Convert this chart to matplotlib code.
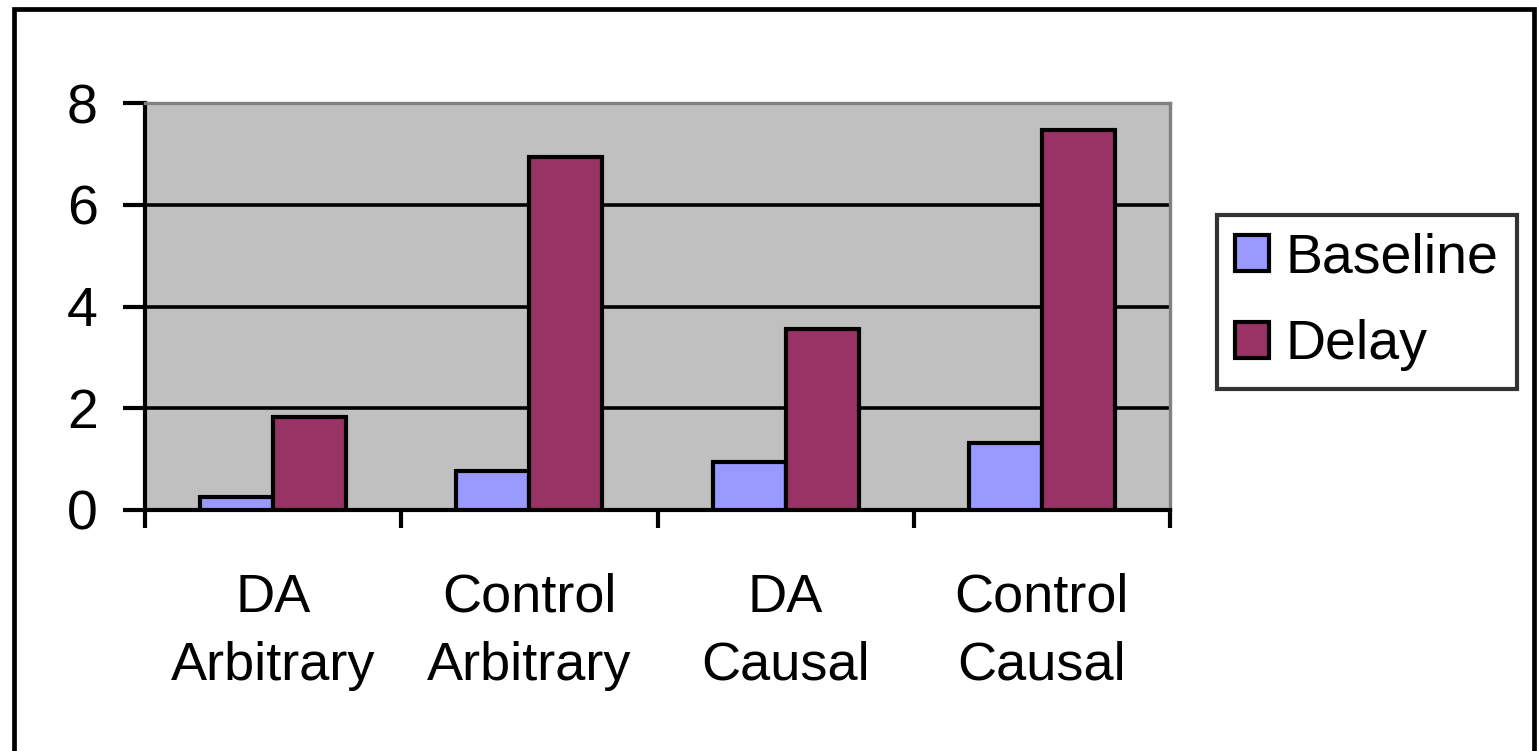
import numpy as np
import matplotlib
matplotlib.use("Agg")
import matplotlib.pyplot as plt
from matplotlib.patches import Rectangle

# Data
# -----------------------------------------------------------------------------
categories = ["DA\nArbitrary", "Control\nArbitrary", "DA\nCausal", "Control\nCausal"]
baseline   = [0.26, 0.77, 0.95, 1.31]
delay      = [1.83, 6.94, 3.56, 7.47]
series     = ["Baseline", "Delay"]
yticks     = [0, 2, 4, 6, 8]

plt.rcParams["font.family"] = ["Liberation Sans", "DejaVu Sans"]
fs = 40

# Figure
# -----------------------------------------------------------------------------
W, H = 1537, 751
fig = plt.figure(figsize=(W / 100, H / 100), dpi=100)

# outer frame (bottom edge falls outside the picture)
fig.patches.append(Rectangle((13.5 / W, -0.05), (1534 - 13.5) / W, 1.05 - 9.5 / H,
                             transform=fig.transFigure, fill=False,
                             edgecolor="black", linewidth=3.4, zorder=0))

ax = fig.add_axes([145 / W, 1 - 510 / H, (1170 - 145) / W, (510 - 103) / H])
ax.set_facecolor("#C0C0C0")

x = np.arange(len(categories))
bw = 0.285
ax.bar(x - bw / 2, baseline, bw, color="#9999FF", edgecolor="black",
       linewidth=3.0, label=series[0], zorder=3)
ax.bar(x + bw / 2, delay, bw, color="#993366", edgecolor="black",
       linewidth=3.0, label=series[1], zorder=3)

ax.set_xlim(-0.5, len(categories) - 0.5)
ax.set_ylim(0, 8)

# gridlines
for y in yticks[1:-1]:
    ax.axhline(y, color="black", linewidth=2.6, zorder=1)

ax.spines["top"].set_color("#808080")
ax.spines["right"].set_color("#808080")
ax.spines["top"].set_linewidth(2.4)
ax.spines["right"].set_linewidth(2.4)
ax.spines["left"].set_linewidth(3.0)
ax.spines["bottom"].set_linewidth(3.0)

ax.set_yticks(yticks)
ax.tick_params(axis="y", length=16, width=3.0, pad=18, labelsize=fs)

# category boundaries as major ticks, labels on minor ticks at centers
ax.set_xticks(np.arange(-0.5, len(categories), 1.0))
ax.set_xticklabels([])
ax.tick_params(axis="x", which="major", length=13, width=3.0)
ax.set_xticks(x, minor=True)
ax.set_xticklabels(categories, minor=True, fontsize=39, linespacing=1.47)
ax.tick_params(axis="x", which="minor", length=0, pad=45)

leg = ax.legend(loc="upper left", bbox_to_anchor=(1217 / W, 1 - 215 / H),
                bbox_transform=fig.transFigure, fontsize=fs, frameon=True,
                fancybox=False, edgecolor="black", handlelength=0.62,
                handleheight=0.62, handletextpad=0.3, labelspacing=0.62,
                borderpad=0.32, borderaxespad=0)
leg.get_frame().set_linewidth(3.0)

fig.savefig("out.png", dpi=100)
